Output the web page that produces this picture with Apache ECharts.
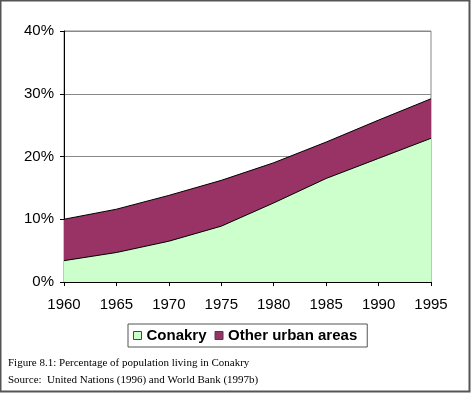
<!DOCTYPE html>
<html>
<head>
<meta charset="utf-8">
<script src="https://cdn.jsdelivr.net/npm/echarts@6/dist/echarts.min.js"></script>
<style>html,body{margin:0;padding:0;background:#fff;}#c{width:472px;height:393px;}</style>
</head>
<body>
<div id="c"></div>
<script>
const years = ['1960','1965','1970','1975','1980','1985','1990','1995'];
const conakry = [3.4, 4.7, 6.5, 8.9, 12.6, 16.5, 19.7, 22.9];
const otherUrban = [6.6, 6.9, 7.3, 7.3, 6.4, 5.8, 6.1, 6.3];
const yTicks = [0, 10, 20, 30, 40];
const captionLines = ['Figure 8.1: Percentage of population living in Conakry', 'Source:  United Nations (1996) and World Bank (1997b)'];

const chart = echarts.init(document.getElementById('c'), null, {renderer: 'canvas'});
const font = 'Liberation Sans, Arial, sans-serif';
chart.setOption({
  animation: false,
  backgroundColor: '#fff',
  grid: {left: 64, right: 41, top: 31, bottom: 111, show: true, borderColor: '#888', borderWidth: 1},
  legend: {
    left: 128, top: 324,
    padding: [4, 10, 4, 5],
    borderColor: '#555', borderWidth: 1,
    itemWidth: 8, itemHeight: 8, itemGap: 8,
    icon: 'rect',
    itemStyle: {borderColor: '#444', borderWidth: 1},
    textStyle: {fontFamily: font, fontSize: 15, fontWeight: 'bold', color: '#000'},
    data: ['Conakry', 'Other urban areas']
  },
  xAxis: {
    type: 'category', data: years, boundaryGap: false,
    axisLine: {lineStyle: {color: '#000', width: 1}},
    axisTick: {show: true, length: 4, lineStyle: {color: '#000'}},
    axisLabel: {fontFamily: font, fontSize: 15, color: '#000', margin: 15},
    splitLine: {show: false}
  },
  yAxis: {
    type: 'value', min: yTicks[0], max: yTicks[yTicks.length - 1], interval: 10,
    axisLine: {show: true, lineStyle: {color: '#000', width: 1}},
    axisTick: {show: true, length: 4, lineStyle: {color: '#000'}},
    axisLabel: {fontFamily: font, fontSize: 15, color: '#000', margin: 10, formatter: '{value}%'},
    splitLine: {show: true, lineStyle: {color: '#888', width: 1}}
  },
  series: [
    {
      name: 'Conakry', type: 'line', stack: 'total', data: conakry,
      symbol: 'none', smooth: false,
      itemStyle: {color: '#ccffcc'},
      lineStyle: {color: '#000', width: 1},
      areaStyle: {color: '#ccffcc', opacity: 1}
    },
    {
      name: 'Other urban areas', type: 'line', stack: 'total', data: otherUrban,
      symbol: 'none', smooth: false,
      itemStyle: {color: '#993366'},
      lineStyle: {color: '#000', width: 1},
      areaStyle: {color: '#993366', opacity: 1}
    }
  ],
  graphic: [
    {type: 'rect', shape: {x: 0.5, y: 0.5, width: 469, height: 391}, style: {fill: 'none', stroke: '#555', lineWidth: 2}, silent: true},
    {type: 'text', left: 8, top: 358, style: {text: captionLines[0], font: '11px "Liberation Serif", "Times New Roman", serif', fill: '#000'}},
    {type: 'text', left: 8, top: 375, style: {text: captionLines[1], font: '11px "Liberation Serif", "Times New Roman", serif', fill: '#000'}}
  ]
});
</script>
</body>
</html>
